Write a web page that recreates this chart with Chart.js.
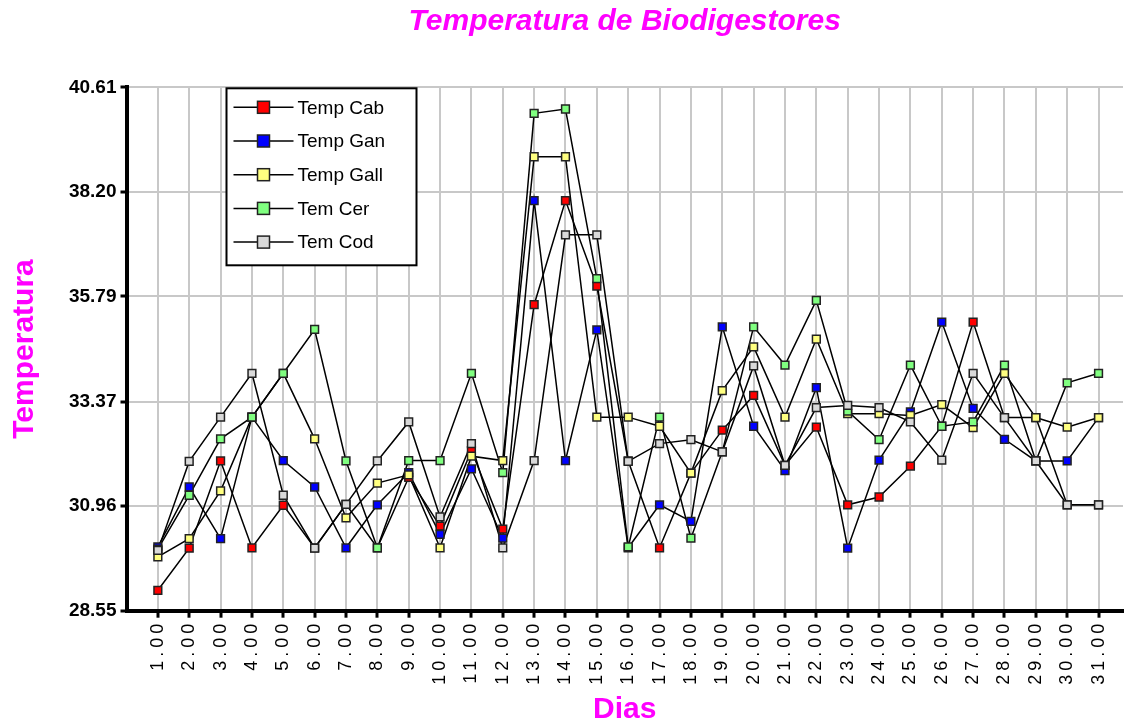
<!DOCTYPE html>
<html>
<head>
<meta charset="utf-8">
<script src="https://cdn.jsdelivr.net/npm/chart.js@4.4.1/dist/chart.umd.min.js"></script>
<style>
  html,body{margin:0;padding:0;background:#fff}
  #wrap{width:1130px;height:723px;position:relative}
</style>
</head>
<body>
<div id="wrap"><canvas id="grafico"></canvas></div>
<script>
// ====== Dados ======
const dias   = [1,2,3,4,5,6,7,8,9,10,11,12,13,14,15,16,17,18,19,20,21,22,23,24,25,26,27,28,29,30,31];
const yTicks = [28.55,30.96,33.37,35.79,38.20,40.61];

const tempCab  = [29.02,29.99,32.00,30.00,30.98,30.00,31.00,30.00,31.62,30.50,32.24,30.43,35.60,38.00,36.03,32.00,30.00,31.72,32.71,33.51,31.90,32.78,30.99,31.17,31.88,32.80,35.20,33.00,33.00,30.99,30.99];
const tempGan  = [30.02,31.40,30.21,33.01,32.01,31.40,30.00,30.99,31.73,30.31,31.82,30.22,38.00,32.01,35.02,30.00,30.99,30.61,35.09,32.80,31.78,33.69,29.99,32.02,33.13,35.20,33.21,32.50,32.00,32.00,33.00];
const tempGall = [29.79,30.21,31.31,33.01,34.02,32.51,30.69,31.49,31.68,30.00,32.11,32.01,39.01,39.01,33.01,33.01,32.80,31.72,33.62,34.63,33.01,34.81,33.09,33.09,33.05,33.30,32.77,34.02,33.00,32.78,33.00];
const temCer   = [29.97,31.21,32.51,33.01,34.02,35.03,32.00,30.00,32.01,32.01,34.02,31.73,40.01,40.11,36.20,30.02,33.01,30.22,32.21,35.09,34.21,35.70,33.15,32.49,34.21,32.80,32.90,34.21,32.00,33.80,34.02];
const temCod   = [29.94,31.99,33.01,34.02,31.21,29.99,31.00,32.00,32.90,30.71,32.40,30.00,32.01,37.21,37.21,31.99,32.40,32.49,32.21,34.19,31.90,33.23,33.28,33.23,32.90,32.02,34.02,33.00,32.00,30.99,30.99];

const nomes  = ['Temp Cab','Temp Gan','Temp Gall','Tem Cer','Tem Cod'];
const cores  = ['#ff0000','#0000ff','#ffff80','#80ff80','#d9d9d9'];
const series = [tempCab,tempGan,tempGall,temCer,temCod];

// ====== Helpers ======
const FONT = 'Arial, "Liberation Sans", Helvetica, sans-serif';
const MAG  = '#ff00ff';
const pts  = arr => arr.map((v,i)=>({x:dias[i], y:v}));

// linhas por baixo, marcadores por cima
const linhas = series.map((s,i)=>({ label:nomes[i]+'_l', data:pts(s), borderColor:'#000', borderWidth:1.5, pointRadius:0, fill:false, tension:0, order:10 }));
const marcas = series.map((s,i)=>({ label:nomes[i], data:pts(s), showLine:false, pointStyle:'rect', pointRadius:5.5,
  pointBackgroundColor:cores[i], pointBorderColor:'#222', pointBorderWidth:1.5, order:5-i }));

// ====== Legenda com caixa ======
const legendaBox = {
  id:'legendaBox',
  afterDraw(chart){
    const {ctx, chartArea} = chart;
    const x0 = chartArea.left + 100, y0 = chartArea.top + 1, w = 190, h = 177;
    ctx.save();
    ctx.fillStyle = '#fff'; ctx.fillRect(x0, y0, w, h);
    ctx.lineWidth = 2; ctx.strokeStyle = '#000'; ctx.strokeRect(x0, y0, w, h);
    nomes.forEach((n,i)=>{
      const cy = y0 + 19 + i*33.7;
      ctx.beginPath(); ctx.moveTo(x0+7, cy); ctx.lineTo(x0+67, cy); ctx.lineWidth = 1.5; ctx.strokeStyle = '#000'; ctx.stroke();
      ctx.fillStyle = cores[i]; ctx.fillRect(x0+31, cy-6, 12, 12);
      ctx.lineWidth = 1.5; ctx.strokeStyle = '#222'; ctx.strokeRect(x0+31, cy-6, 12, 12);
      ctx.fillStyle = '#000'; ctx.font = '19px '+FONT; ctx.textBaseline = 'middle'; ctx.textAlign = 'left';
      ctx.fillText(n, x0+71, cy+1);
    });
    ctx.restore();
  }
};

// rótulos do eixo x com espaçamento entre letras
const espacoTicks = {
  id:'espacoTicks',
  afterLayout(chart){
    const sc = chart.scales.x;
    if(sc._espaco) return;
    const orig = sc.drawLabels;
    sc.drawLabels = function(area){ const c=this.ctx; c.save(); c.letterSpacing='4px'; orig.call(this, area); c.restore(); };
    sc._espaco = true;
  }
};

// ====== Gráfico ======
new Chart(document.getElementById('grafico'), {
  type:'line',
  data:{ datasets:[...linhas, ...marcas] },
  options:{
    responsive:true, maintainAspectRatio:false, animation:false, devicePixelRatio:1,
    layout:{ padding:0 },
    plugins:{
      legend:{ display:false },
      tooltip:{ enabled:false },
      title:{ display:true, text:'Temperatura de Biodigestores', color:MAG, fullSize:false,
        font:{ family:FONT, size:30, weight:'bold', style:'italic', lineHeight:1.2 }, padding:{ top:4, bottom:47.3 } }
    },
    scales:{
      x:{
        type:'linear', min:0, max:31.78,
        afterBuildTicks: sc => { sc.ticks = dias.map(v=>({value:v})); },
        afterFit: sc => { sc.height = 112.3; },
        ticks:{ autoSkip:false, maxRotation:90, minRotation:90, color:'#000', padding:2,
          font:{ family:FONT, size:18 }, callback: v => Number(v).toFixed(2) },
        grid:{ color:'#c8c8c8', lineWidth:2, tickColor:'#000', tickWidth:3, tickLength:7 },
        border:{ color:'#000', width:4 },
        title:{ display:true, text:'Dias', color:MAG, padding:0, font:{ family:FONT, size:30, weight:'bold', lineHeight:0.9 } }
      },
      y:{
        type:'linear', min:28.55, max:40.61,
        afterBuildTicks: sc => { sc.ticks = yTicks.map(v=>({value:v})); },
        afterFit: sc => { sc.width = 126.5; },
        ticks:{ color:'#000', padding:4, font:{ family:FONT, size:19, weight:'bold' }, callback: v => Number(v).toFixed(2) },
        grid:{ color:'#c8c8c8', lineWidth:2, tickColor:'#000', tickWidth:3, tickLength:6 },
        border:{ color:'#000', width:4 },
        title:{ display:true, text:'Temperatura', color:MAG, padding:{ top:7, bottom:0 }, font:{ family:FONT, size:30, weight:'bold', lineHeight:1.2 } }
      }
    }
  },
  plugins:[legendaBox, espacoTicks]
});
</script>
</body>
</html>
